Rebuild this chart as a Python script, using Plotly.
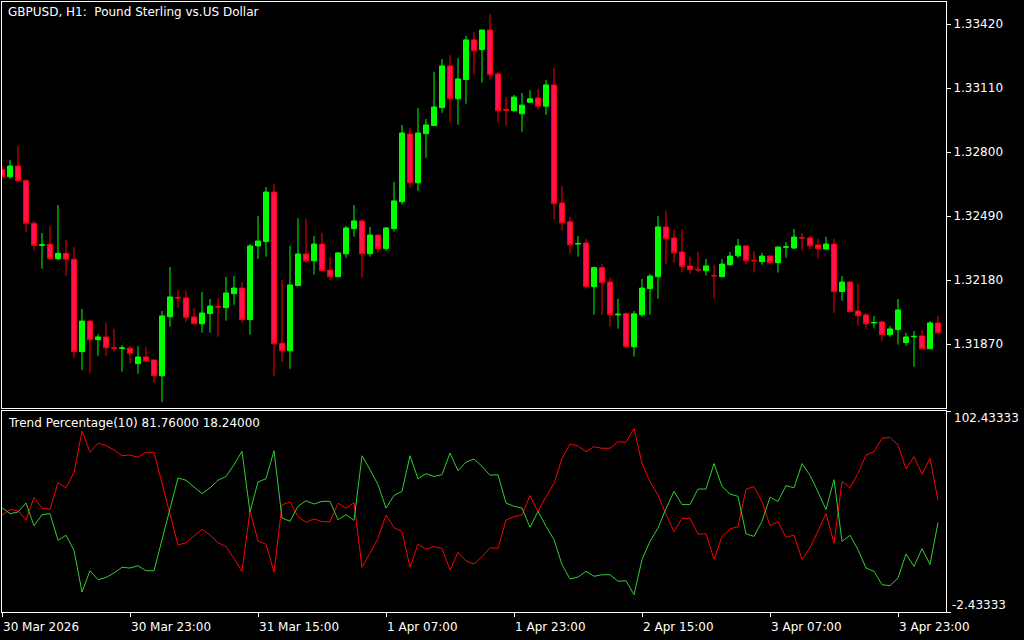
import plotly.graph_objects as go

# ---------------- data ----------------
bar_index = list(range(118))

open_ = [1.32716, 1.32680, 1.32732, 1.32661, 1.32455, 1.32348, 1.32353, 1.32283, 1.32309, 1.32281,
         1.31833, 1.31981, 1.31891, 1.31904, 1.31852, 1.31848, 1.31850, 1.31775, 1.31807, 1.31793,
         1.31716, 1.32002, 1.32096, 1.32093, 1.32001, 1.31968, 1.32017, 1.32052, 1.32046, 1.32114,
         1.32141, 1.31988, 1.32345, 1.32366, 1.32606, 1.31874, 1.31837, 1.32153, 1.32306, 1.32273,
         1.32354, 1.32228, 1.32196, 1.32307, 1.32429, 1.32466, 1.32307, 1.32398, 1.32332, 1.32429,
         1.32559, 1.32887, 1.32651, 1.32889, 1.32928, 1.33015, 1.33217, 1.33058, 1.33151, 1.33343,
         1.33296, 1.33391, 1.33178, 1.33006, 1.33000, 1.32985, 1.33041, 1.33062, 1.33022, 1.33125,
         1.32553, 1.32462, 1.32354, 1.32359, 1.32148, 1.32240, 1.32170, 1.32011, 1.32017, 1.31857,
         1.32012, 1.32138, 1.32196, 1.32437, 1.32384, 1.32316, 1.32248, 1.32231, 1.32225, 1.32202,
         1.32196, 1.32254, 1.32297, 1.32345, 1.32275, 1.32269, 1.32296, 1.32264, 1.32339, 1.32335,
         1.32386, 1.32384, 1.32350, 1.32330, 1.32354, 1.32124, 1.32170, 1.32030, 1.32011, 1.31972,
         1.31977, 1.31915, 1.31940, 1.31877, 1.31905, 1.31909, 1.31847, 1.31972]

high = [1.32732, 1.32761, 1.32829, 1.32668, 1.32466, 1.32408, 1.32442, 1.32543, 1.32374, 1.32340,
        1.32040, 1.31986, 1.31918, 1.31972, 1.31943, 1.31865, 1.31860, 1.31860, 1.31855, 1.31793,
        1.32030, 1.32243, 1.32132, 1.32127, 1.32044, 1.32122, 1.32088, 1.32093, 1.32195, 1.32199,
        1.32170, 1.32354, 1.32490, 1.32630, 1.32645, 1.32180, 1.32345, 1.32480, 1.32476, 1.32393,
        1.32408, 1.32291, 1.32316, 1.32442, 1.32543, 1.32476, 1.32437, 1.32398, 1.32437, 1.32655,
        1.32931, 1.32916, 1.33013, 1.32960, 1.33188, 1.33250, 1.33270, 1.33255, 1.33362, 1.33381,
        1.33391, 1.33468, 1.33188, 1.33066, 1.33076, 1.33086, 1.33100, 1.33105, 1.33149, 1.33207,
        1.32635, 1.32485, 1.32393, 1.32379, 1.32245, 1.32259, 1.32191, 1.32089, 1.32022, 1.32030,
        1.32185, 1.32209, 1.32490, 1.32514, 1.32422, 1.32427, 1.32292, 1.32316, 1.32282, 1.32253,
        1.32282, 1.32316, 1.32379, 1.32350, 1.32320, 1.32311, 1.32296, 1.32340, 1.32364, 1.32427,
        1.32408, 1.32393, 1.32379, 1.32389, 1.32379, 1.32199, 1.32175, 1.32161, 1.32020, 1.32006,
        1.31983, 1.31957, 1.32088, 1.31924, 1.31933, 1.31938, 1.31981, 1.32006]

low = [1.32669, 1.32671, 1.32655, 1.32414, 1.32322, 1.32235, 1.32280, 1.32277, 1.32201, 1.31804,
       1.31744, 1.31731, 1.31813, 1.31813, 1.31833, 1.31736, 1.31777, 1.31726, 1.31784, 1.31683,
       1.31589, 1.31954, 1.32046, 1.31978, 1.31968, 1.31925, 1.31925, 1.31905, 1.31983, 1.32060,
       1.31973, 1.31915, 1.32282, 1.32293, 1.31716, 1.31784, 1.31750, 1.32153, 1.32263, 1.32206,
       1.32225, 1.32180, 1.32196, 1.32288, 1.32390, 1.32191, 1.32293, 1.32312, 1.32322, 1.32414,
       1.32545, 1.32627, 1.32612, 1.32772, 1.32928, 1.32990, 1.32940, 1.32932, 1.33034, 1.33174,
       1.33136, 1.33150, 1.32942, 1.32928, 1.32995, 1.32898, 1.33041, 1.33005, 1.32980, 1.32472,
       1.32419, 1.32307, 1.32293, 1.32138, 1.32012, 1.32012, 1.31954, 1.31944, 1.31852, 1.31809,
       1.32002, 1.32012, 1.32089, 1.32259, 1.32263, 1.32216, 1.32211, 1.32216, 1.32201, 1.32089,
       1.32196, 1.32249, 1.32288, 1.32259, 1.32216, 1.32254, 1.32259, 1.32216, 1.32288, 1.32330,
       1.32320, 1.32330, 1.32282, 1.32327, 1.32020, 1.32080, 1.32022, 1.31959, 1.31944, 1.31949,
       1.31886, 1.31905, 1.31867, 1.31862, 1.31760, 1.31847, 1.31847, 1.31917]

close = [1.32680, 1.32732, 1.32661, 1.32455, 1.32348, 1.32351, 1.32283, 1.32309, 1.32280, 1.31833,
         1.31981, 1.31891, 1.31904, 1.31852, 1.31850, 1.31851, 1.31825, 1.31807, 1.31788, 1.31716,
         1.32006, 1.32098, 1.32093, 1.31999, 1.31968, 1.32020, 1.32054, 1.32049, 1.32117, 1.32141,
         1.31988, 1.32345, 1.32369, 1.32606, 1.31871, 1.31837, 1.32156, 1.32306, 1.32273, 1.32354,
         1.32225, 1.32196, 1.32311, 1.32432, 1.32466, 1.32307, 1.32398, 1.32332, 1.32432, 1.32563,
         1.32892, 1.32651, 1.32892, 1.32931, 1.33018, 1.33217, 1.33058, 1.33154, 1.33343, 1.33291,
         1.33391, 1.33174, 1.33000, 1.33002, 1.33066, 1.33027, 1.33058, 1.33022, 1.33125, 1.32550,
         1.32457, 1.32351, 1.32357, 1.32148, 1.32240, 1.32167, 1.32012, 1.32014, 1.31857, 1.32016,
         1.32141, 1.32199, 1.32437, 1.32380, 1.32312, 1.32245, 1.32230, 1.32229, 1.32248, 1.32200,
         1.32257, 1.32296, 1.32345, 1.32274, 1.32273, 1.32296, 1.32264, 1.32340, 1.32341, 1.32388,
         1.32384, 1.32346, 1.32332, 1.32354, 1.32124, 1.32170, 1.32027, 1.32007, 1.31968, 1.31974,
         1.31915, 1.31943, 1.32035, 1.31904, 1.31907, 1.31847, 1.31972, 1.31925]

trend_red = [48.0, 51.1, 50.3, 45.6, 57.4, 51.7, 51.1, 65.0, 62.4, 70.3,
             92.0, 80.9, 85.6, 84.4, 82.1, 79.1, 79.5, 78.3, 80.9, 80.9,
             64.7, 48.5, 32.5, 33.7, 37.2, 40.7, 37.7, 33.7, 31.7, 25.6,
             18.6, 50.3, 34.6, 32.9, 18.3, 53.4, 55.1, 47.3, 44.4, 46.1,
             44.7, 44.7, 54.3, 51.7, 54.6, 20.9, 28.2, 36.0, 48.2, 41.6,
             39.5, 20.9, 32.9, 30.3, 31.7, 30.8, 19.5, 28.7, 24.2, 22.6,
             26.4, 31.1, 30.8, 45.6, 47.3, 48.2, 58.3, 49.9, 57.7, 64.7,
             77.7, 85.2, 84.2, 81.2, 83.8, 83.0, 83.0, 86.4, 86.1, 93.4,
             75.1, 65.6, 58.6, 48.5, 39.5, 46.4, 46.4, 38.3, 38.3, 25.0,
             36.9, 40.9, 42.1, 61.6, 63.0, 55.1, 42.6, 44.7, 36.5, 37.7,
             25.0, 31.1, 39.8, 49.0, 33.4, 65.6, 62.4, 69.9, 79.5, 81.2,
             88.2, 88.7, 84.7, 72.2, 78.6, 69.4, 77.7, 55.7]

trend_green = [52.0, 48.9, 49.7, 54.4, 42.6, 48.3, 48.9, 35.0, 37.6, 29.7,
               8.0, 19.1, 14.4, 15.6, 17.9, 20.9, 20.5, 21.7, 19.1, 19.1,
               35.3, 51.5, 67.5, 66.3, 62.8, 59.3, 62.3, 66.3, 68.3, 74.4,
               81.4, 49.7, 65.4, 67.1, 81.7, 46.6, 44.9, 52.7, 55.6, 53.9,
               55.3, 55.3, 45.7, 48.3, 45.4, 79.1, 71.8, 64.0, 51.8, 58.4,
               60.5, 79.1, 67.1, 69.7, 68.3, 69.2, 80.5, 71.3, 75.8, 77.4,
               73.6, 68.9, 69.2, 54.4, 52.7, 51.8, 41.7, 50.1, 42.3, 35.3,
               22.3, 14.8, 15.8, 18.8, 16.2, 17.0, 17.0, 13.6, 13.9, 6.6,
               24.9, 34.4, 41.4, 51.5, 60.5, 53.6, 53.6, 61.7, 61.7, 75.0,
               63.1, 59.1, 57.9, 38.4, 37.0, 44.9, 57.4, 55.3, 63.5, 62.3,
               75.0, 68.9, 60.2, 51.0, 66.6, 34.4, 37.6, 30.1, 20.5, 18.8,
               11.8, 11.3, 15.3, 27.8, 21.4, 30.6, 22.3, 44.3]

price_ticks = [1.33420, 1.33110, 1.32800, 1.32490, 1.32180, 1.31870]
price_tick_text = ["1.33420", "1.33110", "1.32800", "1.32490", "1.32180", "1.31870"]
time_tick_bars = [0, 16, 32, 48, 64, 80, 96, 112]
time_tick_text = ["30 Mar 2026", "30 Mar 23:00", "31 Mar 15:00", "1 Apr 07:00",
                  "1 Apr 23:00", "2 Apr 15:00", "3 Apr 07:00", "3 Apr 23:00"]
ind_min, ind_max = -2.43333, 102.43333

title_text = "GBPUSD, H1:\u00a0 Pound Sterling vs.US Dollar"
ind_text = "Trend Percentage(10) 81.76000 18.24000"

# ---------------- layout helpers ----------------
W, H = 1024, 640
def px(x):
    return x / W
def py(y):
    return 1 - y / H

FONT = "DejaVu Sans"
WHITE = "#FFFFFF"

fig = go.Figure()

fig.add_trace(go.Candlestick(
    x=bar_index, open=open_, high=high, low=low, close=close,
    increasing=dict(line=dict(color="#00FF00", width=1), fillcolor="#00FF00"),
    decreasing=dict(line=dict(color="#FF0000", width=1), fillcolor="#FF1050"),
    whiskerwidth=0, xaxis="x", yaxis="y", hoverinfo="skip", showlegend=False,
))

fig.add_trace(go.Scatter(x=bar_index, y=trend_red, mode="lines",
                         line=dict(color="#FF0000", width=1),
                         xaxis="x2", yaxis="y2", showlegend=False, hoverinfo="skip"))
fig.add_trace(go.Scatter(x=bar_index, y=trend_green, mode="lines",
                         line=dict(color="#32CD32", width=1),
                         xaxis="x2", yaxis="y2", showlegend=False, hoverinfo="skip"))

xdom = [px(2), px(946)]
axis_common = dict(showgrid=False, zeroline=False, showline=True, mirror=True,
                   linecolor=WHITE, linewidth=1, automargin=False)

fig.update_layout(
    width=W, height=H, autosize=False,
    margin=dict(l=0, r=0, t=0, b=0, pad=0, autoexpand=False),
    paper_bgcolor="black", plot_bgcolor="black",
    boxgap=0.375, boxgroupgap=0,
    showlegend=False,
    xaxis=dict(domain=xdom, range=[0, 118], anchor="y", showticklabels=False, ticks="",
               rangeslider=dict(visible=False), **axis_common),
    yaxis=dict(domain=[py(408), py(2)], range=[1.31560, 1.335266], anchor="x", side="right",
               tickvals=price_ticks, ticktext=price_tick_text, ticks="outside", ticklen=4,
               tickcolor=WHITE, tickfont=dict(family=FONT, size=12, color=WHITE),
               **axis_common),
    xaxis2=dict(domain=xdom, range=[0, 118], anchor="y2", tickvals=time_tick_bars,
                ticktext=time_tick_text, ticks="outside", ticklen=4, tickcolor=WHITE,
                ticklabelposition="outside right", ticklabelstandoff=4,
                tickfont=dict(family=FONT, size=12, color=WHITE), **axis_common),
    yaxis2=dict(domain=[py(612), py(411)], range=[ind_min, ind_max], anchor="x2", side="right",
                tickvals=[ind_max, ind_min], ticks="outside", ticklen=4, tickcolor=WHITE,
                showticklabels=False, **axis_common),
)

annots = [
    dict(text=title_text, x=px(6), y=py(12), xanchor="left", yanchor="middle"),
    dict(text=ind_text, x=px(6), y=py(423), xanchor="left", yanchor="middle"),
    dict(text=f"{ind_max:.5f}", x=px(952), y=py(418), xanchor="left", yanchor="middle"),
    dict(text=f"{ind_min:.5f}", x=px(950), y=py(605), xanchor="left", yanchor="middle"),
]
for a in annots:
    fig.add_annotation(xref="paper", yref="paper", showarrow=False,
                       font=dict(family=FONT, size=12, color=WHITE), **a)

post = ("document.body.style.margin='0';document.body.style.padding='0';"
        "document.body.style.overflow='hidden';"
        "document.documentElement.style.overflow='hidden';"
        "var gd=document.getElementById('{plot_id}');"
        "Plotly.relayout(gd,{width:1024,height:640});")

fig.write_html("out.html", config={"responsive": False, "displayModeBar": False},
               post_script=post)
